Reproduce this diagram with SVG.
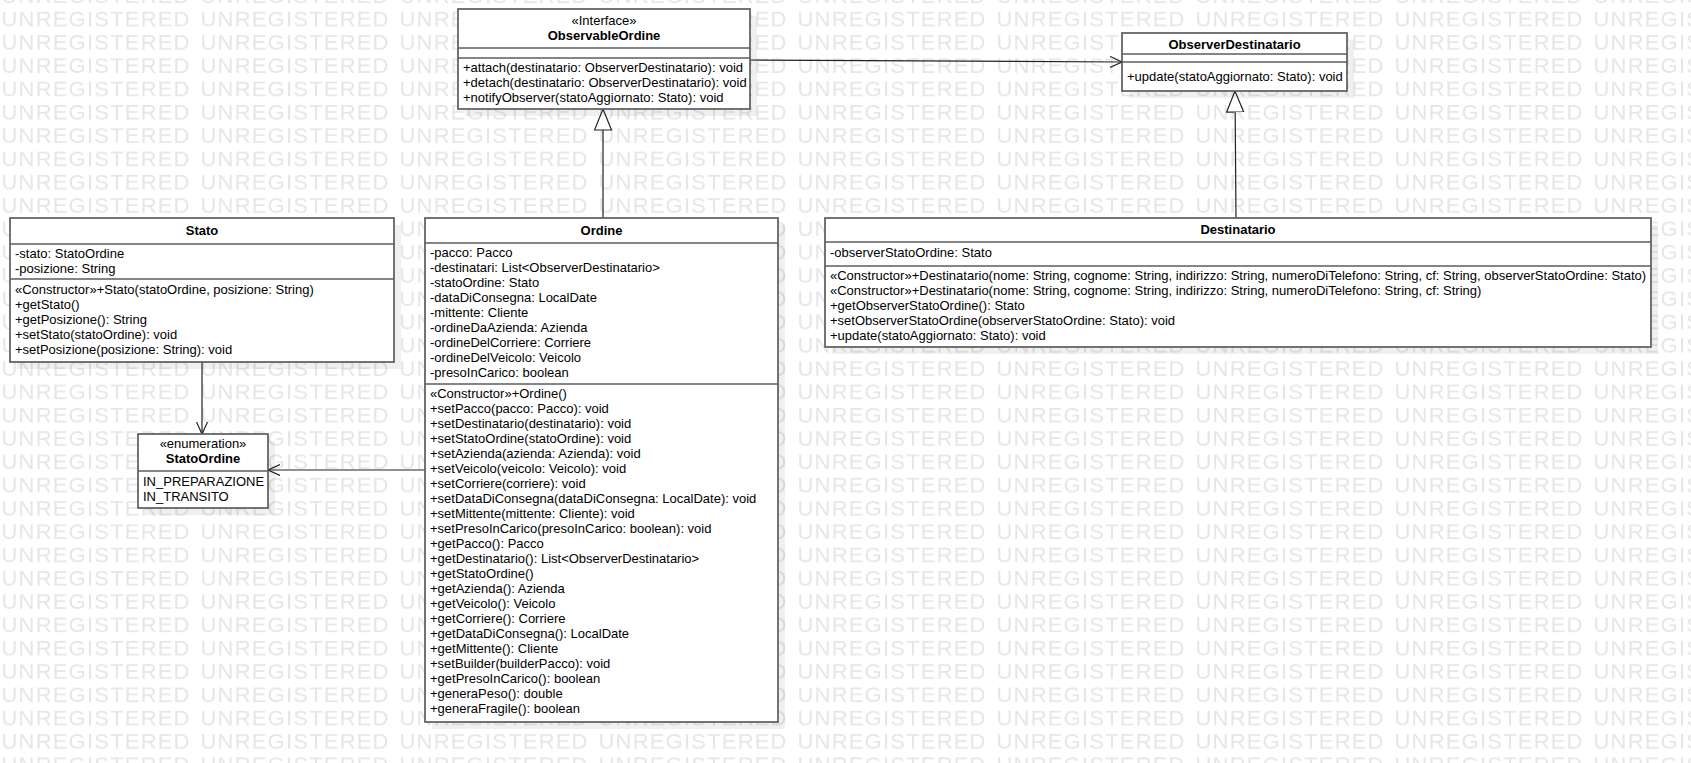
<svg xmlns="http://www.w3.org/2000/svg" width="1691" height="763" viewBox="0 0 1691 763">
<defs>
<style>
.wm{font-family:"Liberation Sans",Arial,sans-serif;font-size:22px;fill:#e6e6e6}
.shadow{fill:#000;fill-opacity:0.06}
.box{fill:#fff;stroke:#5c5c5c;stroke-width:1.7}
.sep{stroke:#5c5c5c;stroke-width:1.7}
.t{font-family:"Liberation Sans",Arial,sans-serif;font-size:13px;fill:#000}
.b{font-weight:bold}
.c{text-anchor:middle}
.edge{stroke:#222;stroke-width:1.2;fill:none}
</style>
<pattern id="wmp" patternUnits="userSpaceOnUse" x="0" y="6" width="199" height="23.3">
<text class="wm" x="1.5" y="20" textLength="188" lengthAdjust="spacing">UNREGISTERED</text>
</pattern>
<marker id="open" markerUnits="userSpaceOnUse" markerWidth="14" markerHeight="12" refX="12" refY="5.5" orient="auto">
<path d="M0,0 L12,5.5 L0,11" fill="none" stroke="#222" stroke-width="1.2"/>
</marker>
<marker id="tri" markerUnits="userSpaceOnUse" markerWidth="24" markerHeight="20" refX="21.5" refY="9.5" orient="auto">
<path d="M0.5,1 L21.5,9.5 L0.5,18 Z" fill="#fff" stroke="#222" stroke-width="1.2"/>
</marker>
</defs>
<rect x="0" y="0" width="1691" height="763" fill="#fff"/>
<rect x="0" y="0" width="1691" height="763" fill="url(#wmp)"/>

<g id="connectors">
<path class="edge" d="M750,60 L1122,62" marker-end="url(#open)"/>
<path class="edge" d="M202,362 L202,434" marker-end="url(#open)"/>
<path class="edge" d="M425,470 L268,470" marker-end="url(#open)"/>
<path class="edge" d="M603,218 L603,109" marker-end="url(#tri)"/>
<path class="edge" d="M1236,218 L1235,91" marker-end="url(#tri)"/>
</g>

<g id="ObservableOrdine">
<rect class="shadow" x="465" y="16" width="292" height="100"/>
<rect class="box" x="458" y="9" width="292" height="100"/>
<line class="sep" x1="458" y1="48" x2="750" y2="48"/>
<line class="sep" x1="458" y1="58" x2="750" y2="58"/>
<text class="t c" x="604" y="25">«Interface»</text>
<text class="t c b" x="604" y="40">ObservableOrdine</text>
<text class="t" x="463" y="72">+attach(destinatario: ObserverDestinatario): void</text>
<text class="t" x="463" y="87">+detach(destinatario: ObserverDestinatario): void</text>
<text class="t" x="463" y="102">+notifyObserver(statoAggiornato: Stato): void</text>
</g>

<g id="ObserverDestinatario">
<rect class="shadow" x="1129" y="40" width="225" height="58"/>
<rect class="box" x="1122" y="33" width="225" height="58"/>
<line class="sep" x1="1122" y1="54" x2="1347" y2="54"/>
<line class="sep" x1="1122" y1="62" x2="1347" y2="62"/>
<text class="t c b" x="1234.5" y="49">ObserverDestinatario</text>
<text class="t" x="1127" y="81">+update(statoAggiornato: Stato): void</text>
</g>

<g id="Stato">
<rect class="shadow" x="17" y="225" width="384" height="144"/>
<rect class="box" x="10" y="218" width="384" height="144"/>
<line class="sep" x1="10" y1="244" x2="394" y2="244"/>
<line class="sep" x1="10" y1="279" x2="394" y2="279"/>
<text class="t c b" x="202" y="235">Stato</text>
<text class="t" x="15" y="258">-stato: StatoOrdine</text>
<text class="t" x="15" y="273">-posizione: String</text>
<text class="t" x="15" y="294">«Constructor»+Stato(statoOrdine, posizione: String)</text>
<text class="t" x="15" y="309">+getStato()</text>
<text class="t" x="15" y="324">+getPosizione(): String</text>
<text class="t" x="15" y="339">+setStato(statoOrdine): void</text>
<text class="t" x="15" y="354">+setPosizione(posizione: String): void</text>
</g>

<g id="Ordine">
<rect class="shadow" x="432" y="225" width="353" height="504"/>
<rect class="box" x="425" y="218" width="353" height="504"/>
<line class="sep" x1="425" y1="243" x2="778" y2="243"/>
<line class="sep" x1="425" y1="384" x2="778" y2="384"/>
<text class="t c b" x="601.5" y="235">Ordine</text>
<text class="t" x="430" y="257">-pacco: Pacco</text>
<text class="t" x="430" y="272">-destinatari: List&lt;ObserverDestinatario&gt;</text>
<text class="t" x="430" y="287">-statoOrdine: Stato</text>
<text class="t" x="430" y="302">-dataDiConsegna: LocalDate</text>
<text class="t" x="430" y="317">-mittente: Cliente</text>
<text class="t" x="430" y="332">-ordineDaAzienda: Azienda</text>
<text class="t" x="430" y="347">-ordineDelCorriere: Corriere</text>
<text class="t" x="430" y="362">-ordineDelVeicolo: Veicolo</text>
<text class="t" x="430" y="377">-presoInCarico: boolean</text>
<text class="t" x="430" y="398">«Constructor»+Ordine()</text>
<text class="t" x="430" y="413">+setPacco(pacco: Pacco): void</text>
<text class="t" x="430" y="428">+setDestinatario(destinatario): void</text>
<text class="t" x="430" y="443">+setStatoOrdine(statoOrdine): void</text>
<text class="t" x="430" y="458">+setAzienda(azienda: Azienda): void</text>
<text class="t" x="430" y="473">+setVeicolo(veicolo: Veicolo): void</text>
<text class="t" x="430" y="488">+setCorriere(corriere): void</text>
<text class="t" x="430" y="503">+setDataDiConsegna(dataDiConsegna: LocalDate): void</text>
<text class="t" x="430" y="518">+setMittente(mittente: Cliente): void</text>
<text class="t" x="430" y="533">+setPresoInCarico(presoInCarico: boolean): void</text>
<text class="t" x="430" y="548">+getPacco(): Pacco</text>
<text class="t" x="430" y="563">+getDestinatario(): List&lt;ObserverDestinatario&gt;</text>
<text class="t" x="430" y="578">+getStatoOrdine()</text>
<text class="t" x="430" y="593">+getAzienda(): Azienda</text>
<text class="t" x="430" y="608">+getVeicolo(): Veicolo</text>
<text class="t" x="430" y="623">+getCorriere(): Corriere</text>
<text class="t" x="430" y="638">+getDataDiConsegna(): LocalDate</text>
<text class="t" x="430" y="653">+getMittente(): Cliente</text>
<text class="t" x="430" y="668">+setBuilder(builderPacco): void</text>
<text class="t" x="430" y="683">+getPresoInCarico(): boolean</text>
<text class="t" x="430" y="698">+generaPeso(): double</text>
<text class="t" x="430" y="713">+generaFragile(): boolean</text>
</g>

<g id="Destinatario">
<rect class="shadow" x="832" y="225" width="826" height="129"/>
<rect class="box" x="825" y="218" width="826" height="129"/>
<line class="sep" x1="825" y1="242" x2="1651" y2="242"/>
<line class="sep" x1="825" y1="266" x2="1651" y2="266"/>
<text class="t c b" x="1238" y="234">Destinatario</text>
<text class="t" x="830" y="257">-observerStatoOrdine: Stato</text>
<text class="t" x="830" y="280">«Constructor»+Destinatario(nome: String, cognome: String, indirizzo: String, numeroDiTelefono: String, cf: String, observerStatoOrdine: Stato)</text>
<text class="t" x="830" y="295">«Constructor»+Destinatario(nome: String, cognome: String, indirizzo: String, numeroDiTelefono: String, cf: String)</text>
<text class="t" x="830" y="310">+getObserverStatoOrdine(): Stato</text>
<text class="t" x="830" y="325">+setObserverStatoOrdine(observerStatoOrdine: Stato): void</text>
<text class="t" x="830" y="340">+update(statoAggiornato: Stato): void</text>
</g>

<g id="StatoOrdine">
<rect class="shadow" x="145" y="441" width="130" height="74"/>
<rect class="box" x="138" y="434" width="130" height="74"/>
<line class="sep" x1="138" y1="471" x2="268" y2="471"/>
<text class="t c" x="203" y="448">«enumeration»</text>
<text class="t c b" x="203" y="463">StatoOrdine</text>
<text class="t" x="143" y="486">IN_PREPARAZIONE</text>
<text class="t" x="143" y="501">IN_TRANSITO</text>
</g>
</svg>
